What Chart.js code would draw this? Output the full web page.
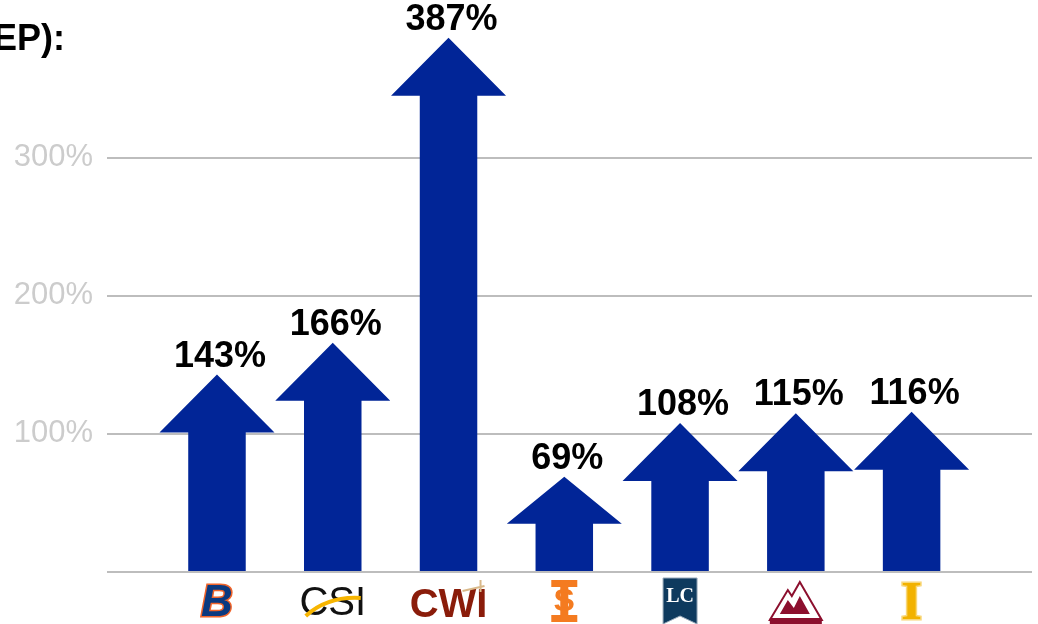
<!DOCTYPE html>
<html>
<head>
<meta charset="utf-8">
<script src="https://cdn.jsdelivr.net/npm/chart.js@4/dist/chart.umd.min.js"></script>
<style>
    html, body { margin: 0; padding: 0; background: #fff; }
    #wrap { position: relative; width: 1038px; height: 624px; }
</style>
</head>
<body>
<div id="wrap"><canvas id="growthChart"></canvas></div>
<script>
// Data
const schools = ['Boise State', 'CSI', 'CWI', 'Idaho State', 'Lewis-Clark', 'North Idaho', 'Idaho'];
const growth = [143, 166, 387, 69, 108, 115, 116];
const yTicks = [0, 100, 200, 300];

const ARROW_BLUE = '#012597';

// Draws each bar as an up arrow, the % label above it, and the school marks under the axis
const arrowPlugin = {
    id: 'arrows',
    afterDatasetsDraw(chart) {
        const ctx = chart.ctx;
        const meta = chart.getDatasetMeta(0);
        ctx.save();
        meta.data.forEach((bar, i) => {
            const { x, y, base, width } = bar.getProps(['x', 'y', 'base', 'width'], true);
            const hw = width / 2;
            const sw = width * 0.25;
            const headH = Math.min(58, (base - y) * 0.5);

            ctx.fillStyle = ARROW_BLUE;
            ctx.beginPath();
            ctx.moveTo(x - sw, base);
            ctx.lineTo(x - sw, y + headH);
            ctx.lineTo(x - hw, y + headH);
            ctx.lineTo(x, y);
            ctx.lineTo(x + hw, y + headH);
            ctx.lineTo(x + sw, y + headH);
            ctx.lineTo(x + sw, base);
            ctx.closePath();
            ctx.fill();

            ctx.fillStyle = '#000';
            ctx.font = 'bold 36px "Liberation Sans", Arial, sans-serif';
            ctx.textAlign = 'center';
            ctx.textBaseline = 'alphabetic';
            ctx.fillText(growth[i] + '%', x + 3, y - 8);
        });

        // cropped title fragment
        ctx.fillStyle = '#000';
        ctx.font = 'bold 36px "Liberation Sans", Arial, sans-serif';
        ctx.textAlign = 'left';
        ctx.fillText('EP):', -7, 50);

        const xs = chart.scales.x;
        schools.forEach((name, i) => drawMark(ctx, name, xs.getPixelForValue(i), 602));
        ctx.restore();
    }
};

function drawMark(ctx, name, cx, cy) {
    ctx.save();
    ctx.textAlign = 'center';
    ctx.textBaseline = 'middle';
    if (name === 'Boise State') {
        ctx.font = 'italic bold 44px "Liberation Sans", Arial, sans-serif';
        ctx.lineWidth = 3;
        ctx.strokeStyle = '#f0642a';
        ctx.strokeText('B', cx, cy + 2);
        ctx.fillStyle = '#0b3a80';
        ctx.fillText('B', cx, cy + 2);
    } else if (name === 'CSI') {
        ctx.font = '40px "Liberation Sans", Arial, sans-serif';
        ctx.fillStyle = '#111';
        ctx.fillText('CSI', cx, cy + 2);
        ctx.strokeStyle = '#f7b500';
        ctx.lineWidth = 4;
        ctx.beginPath();
        ctx.moveTo(cx - 27, cy + 14);
        ctx.quadraticCurveTo(cx - 5, cy - 6, cx + 28, cy - 4);
        ctx.stroke();
    } else if (name === 'CWI') {
        ctx.font = 'bold 40px "Liberation Sans Narrow", "Liberation Sans", Arial, sans-serif';
        ctx.fillStyle = '#8a1c0a';
        ctx.fillText('CWI', cx, cy + 4);
        ctx.strokeStyle = '#d9b98a';
        ctx.lineWidth = 2;
        ctx.beginPath();
        ctx.moveTo(cx + 14, cy - 11);
        ctx.lineTo(cx + 36, cy - 16);
        ctx.moveTo(cx + 32, cy - 22);
        ctx.lineTo(cx + 32, cy - 10);
        ctx.stroke();
    } else if (name === 'Idaho State') {
        ctx.fillStyle = '#f47b20';
        ctx.fillRect(cx - 13, cy - 22, 26, 7);
        ctx.fillRect(cx - 13, cy + 13, 26, 7);
        ctx.fillRect(cx - 4, cy - 22, 8, 42);
        ctx.font = 'bold 32px "Liberation Sans", Arial, sans-serif';
        ctx.fillText('S', cx, cy);
    } else if (name === 'Lewis-Clark') {
        ctx.fillStyle = '#0e3a5e';
        ctx.strokeStyle = '#9ab';
        ctx.lineWidth = 1;
        ctx.beginPath();
        ctx.moveTo(cx - 17, cy - 24);
        ctx.lineTo(cx + 17, cy - 24);
        ctx.lineTo(cx + 17, cy + 22);
        ctx.lineTo(cx, cy + 14);
        ctx.lineTo(cx - 17, cy + 22);
        ctx.closePath();
        ctx.fill();
        ctx.stroke();
        ctx.fillStyle = '#fff';
        ctx.font = 'bold 20px "Liberation Serif", serif';
        ctx.fillText('LC', cx, cy - 5);
    } else if (name === 'North Idaho') {
        ctx.strokeStyle = '#8c0f2e';
        ctx.fillStyle = '#8c0f2e';
        ctx.lineWidth = 2;
        ctx.beginPath();
        ctx.moveTo(cx - 26, cy + 18);
        ctx.lineTo(cx - 8, cy - 12);
        ctx.lineTo(cx - 4, cy - 6);
        ctx.lineTo(cx + 4, cy - 20);
        ctx.lineTo(cx + 26, cy + 18);
        ctx.closePath();
        ctx.stroke();
        ctx.beginPath();
        ctx.moveTo(cx - 16, cy + 12);
        ctx.lineTo(cx - 8, cy - 2);
        ctx.lineTo(cx - 2, cy + 6);
        ctx.lineTo(cx + 4, cy - 6);
        ctx.lineTo(cx + 14, cy + 12);
        ctx.closePath();
        ctx.fill();
        ctx.fillRect(cx - 26, cy + 16, 52, 6);
    } else {
        ctx.font = 'bold 54px "Liberation Serif", serif';
        ctx.lineWidth = 3;
        ctx.strokeStyle = '#f8d77a';
        ctx.strokeText('I', cx, cy + 3);
        ctx.fillStyle = '#f2b200';
        ctx.fillText('I', cx, cy + 3);
    }
    ctx.restore();
}

const ctx = document.getElementById('growthChart').getContext('2d');
new Chart(ctx, {
    type: 'bar',
    data: {
        datasets: [{
            data: growth.map((v, i) => ({ x: i, y: v })),
            backgroundColor: 'rgba(0,0,0,0)',
            borderWidth: 0,
            barThickness: 115
        }]
    },
    options: {
        responsive: true,
        maintainAspectRatio: false,
        animation: false,
        layout: { padding: { top: 6, right: 6, bottom: 52, left: 0 } },
        plugins: {
            legend: { display: false },
            tooltip: { enabled: false }
        },
        scales: {
            x: {
                type: 'linear',
                display: false,
                offset: false,
                min: -0.95,
                max: 7.04
            },
            y: {
                min: 0,
                max: 410,
                afterBuildTicks: (scale) => {
                    scale.ticks = yTicks.map(v => ({ value: v }));
                },
                afterFit: (scale) => {
                    scale.width = 107;
                    scale.paddingTop = 0;
                    scale.paddingBottom = 0;
                },
                border: { display: false },
                grid: {
                    color: '#bdbdbd',
                    lineWidth: 2,
                    drawTicks: false
                },
                ticks: {
                    padding: 14,
                    color: '#cccccc',
                    font: { family: '"Liberation Sans", Arial, sans-serif', size: 31 },
                    callback: (v) => v === 0 ? '' : v + '%'
                }
            }
        }
    },
    plugins: [arrowPlugin]
});
</script>
</body>
</html>
